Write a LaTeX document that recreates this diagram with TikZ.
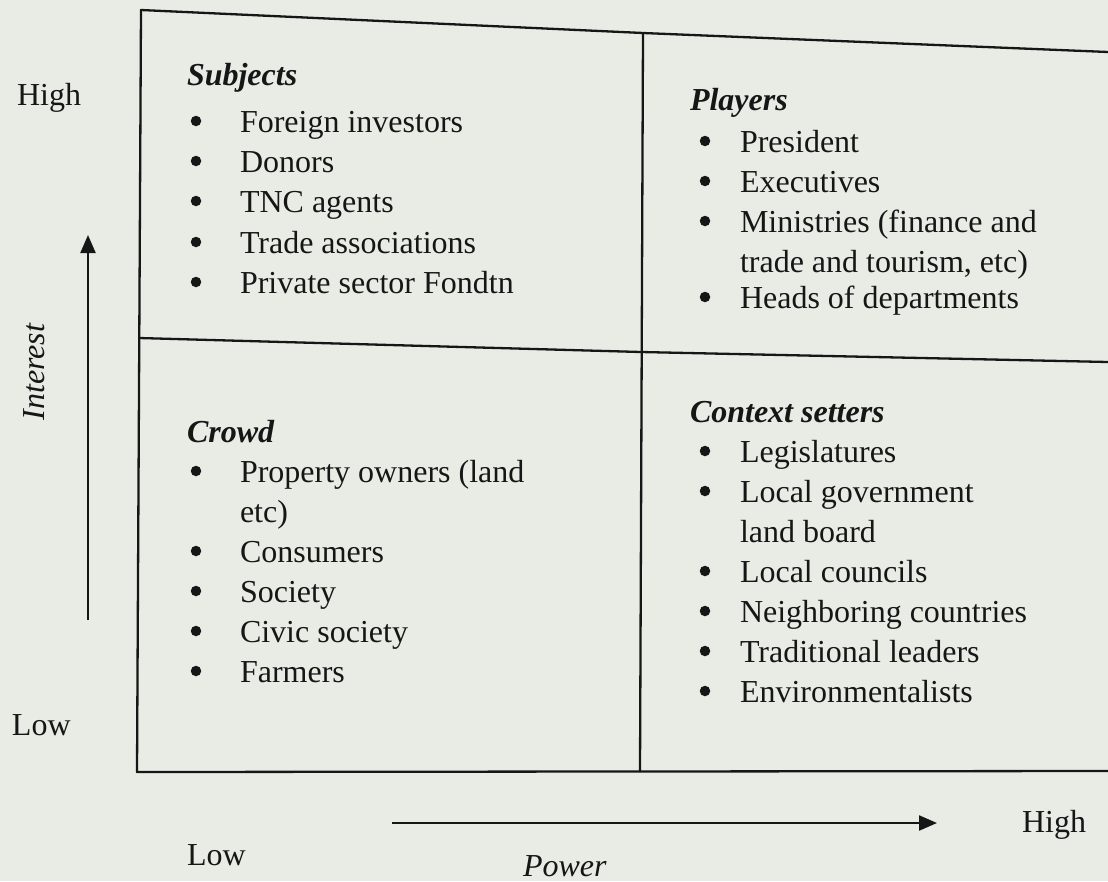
\documentclass[tikz,border=0pt]{standalone}
\usepackage{fontspec}
\setmainfont{Liberation Serif}
\usetikzlibrary{arrows.meta}
\definecolor{paper}{RGB}{232,236,229}
\definecolor{ink}{RGB}{22,22,22}
\begin{document}
\begin{tikzpicture}[x=1pt,y=-1pt,
  every node/.style={inner sep=0pt,outer sep=0pt,text=ink,font=\fontsize{32}{40}\selectfont},
  grid/.style={draw=ink,line width=2.3pt,line join=round},
  axis/.style={draw=ink,line width=2.2pt,-{Triangle[length=18pt,width=15pt]}},
  head/.style={anchor=base west,font=\fontsize{32}{40}\selectfont\bfseries\itshape},
  item/.style={anchor=base west},
  dot/.style={circle,fill=ink,minimum size=10.5pt,yshift=11pt},
  lbl/.style={anchor=base west}]
% page
\fill[paper] (0,0) rectangle (1108,881);
\useasboundingbox (0,0) rectangle (1108,881);

% quadrant frame
\coordinate (TL) at (141,10);
\coordinate (TM) at (643,33);
\coordinate (TR) at (1108,52);
\coordinate (ML) at (139,338);
\coordinate (MM) at (641,352);
\coordinate (MR) at (1108,362);
\coordinate (BL) at (137,772);
\coordinate (BM) at (640,772);
\coordinate (BR) at (1108,771);
\draw[grid] (TR) -- (TM) -- (TL) -- (BL) -- (BR);
\draw[grid] (TM) -- (BM);
\draw[grid] (ML) -- (MM) -- (MR);

% Subjects
\node[head] (subj) at (187,85) {Subjects};
\foreach \y/\t [count=\i] in {132/Foreign investors,172/Donors,212/TNC agents,253/Trade associations,293/Private sector Fondtn}{
  \node[dot] (sb\i) at (196,\y) {};
  \node[item] (si\i) at (240,\y) {\t};
}

% Players
\node[head] (play) at (690,110) {Players};
\node[dot] (pb1) at (705,152) {};
\node[item] (pi1) at (740,152) {President};
\node[dot] (pb2) at (705,192) {};
\node[item] (pi2) at (740,192) {Executives};
\node[dot] (pb3) at (705,232) {};
\node[item] (pi3) at (740,232) {Ministries (finance and};
\node[item] (pi3b) at (740,272) {trade and tourism, etc)};
\node[dot] (pb4) at (705,308) {};
\node[item] (pi4) at (740,308) {Heads of departments};

% Crowd
\node[head] (crowd) at (187,442) {Crowd};
\node[dot] (cb1) at (196,482) {};
\node[item] (ci1) at (240,482) {Property owners (land};
\node[item] (ci1b) at (240,522) {etc)};
\foreach \y/\t [count=\i from 2] in {562/Consumers,602/Society,642/Civic society,682/Farmers}{
  \node[dot] (cb\i) at (196,\y) {};
  \node[item] (ci\i) at (240,\y) {\t};
}

% Context setters
\node[head] (ctx) at (690,422) {Context setters};
\node[dot] (xb1) at (705,462) {};
\node[item] (xi1) at (740,462) {Legislatures};
\node[dot] (xb2) at (705,502) {};
\node[item] (xi2) at (740,502) {Local government};
\node[item] (xi2b) at (740,542) {land board};
\foreach \y/\t [count=\i from 3] in {582/Local councils,622/Neighboring countries,662/Traditional leaders,702/Environmentalists}{
  \node[dot] (xb\i) at (705,\y) {};
  \node[item] (xi\i) at (740,\y) {\t};
}

% interest axis
\node[lbl] (hiY) at (17,105) {High};
\node[lbl] (loY) at (12,735) {Low};
\node[rotate=90,font=\fontsize{32}{40}\selectfont\itshape] (interest) at (34,372) {Interest};
\coordinate (ia) at (88,620);
\coordinate (ib) at (88,235);
\draw[axis] (ia) -- (ib);

% power axis
\coordinate (pa) at (392,823);
\coordinate (pb) at (937,823);
\draw[axis] (pa) -- (pb);
\node[lbl] (hiX) at (1022,832) {High};
\node[lbl] (loX) at (187,865) {Low};
\node[lbl,font=\fontsize{32}{40}\selectfont\itshape] (power) at (523,876) {Power};
\end{tikzpicture}
\end{document}
